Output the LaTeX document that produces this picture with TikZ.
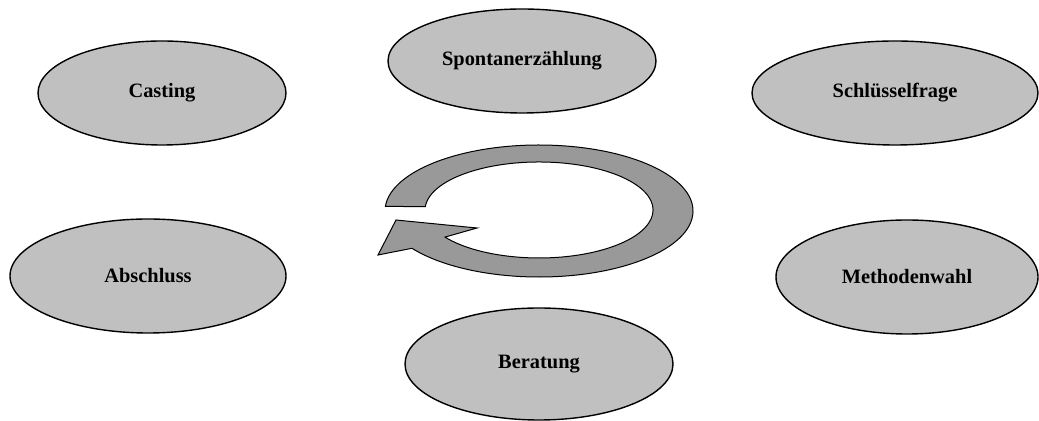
\documentclass[tikz,border=0pt]{standalone}
\usepackage{fontspec}
\setmainfont{Liberation Serif}
\usepackage{tikz}
\usetikzlibrary{shapes.geometric}
\definecolor{ovalgray}{RGB}{192,192,192}
\definecolor{arrowgray}{RGB}{153,153,153}

\begin{document}
\begin{tikzpicture}[x=0.5pt, y=-0.5pt,
    phase/.style={ellipse, draw, line width=0.7pt, fill=ovalgray, inner sep=0pt,
      font=\fontsize{10.2}{12}\selectfont\bfseries}]
                \useasboundingbox (0,0) rectangle (1039,421);

                \node[phase, minimum width=124pt, minimum height=52pt] (casting) at (162,93) {Casting};
                \node[phase, minimum width=134pt, minimum height=52pt] (spontan) at (522,61) {Spontanerzählung};
                \node[phase, minimum width=143pt, minimum height=52pt] (schluessel) at (895,93) {Schlüsselfrage};
                \node[phase, minimum width=138pt, minimum height=57pt] (abschluss) at (148,276) {Abschluss};
                \node[phase, minimum width=131pt, minimum height=57pt] (methoden) at (907,277) {Methodenwahl};
                \node[phase, minimum width=134pt, minimum height=56pt] (beratung) at (539,364) {Beratung};

                % Kreislaufpfeil in der Mitte
                \draw[line width=0.5pt, fill=arrowgray]
                    (385.4,206.4) arc[start angle=184, end angle=505.6, x radius=154, y radius=66]
                    -- (378,255) -- (396,220) -- (477,228)
                    -- (445,237.1) arc[start angle=505.6, end angle=184, x radius=114, y radius=48]
                    -- cycle;
            \end{tikzpicture}
\end{document}
